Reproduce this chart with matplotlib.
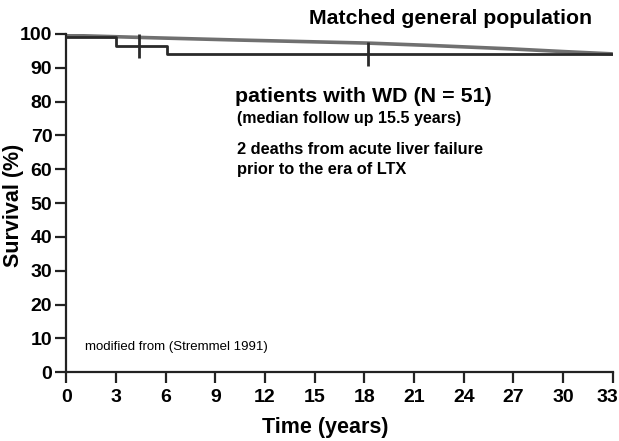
import matplotlib
matplotlib.use("Agg")
import matplotlib.pyplot as plt
from matplotlib.transforms import ScaledTranslation

plt.rcParams['font.family'] = ['Liberation Sans', 'DejaVu Sans']

# Kaplan-Meier, patients with WD
km_time = [0, 3, 3, 6.1, 6.1, 33]
km_surv = [99, 99, 96.4, 96.4, 94.0, 94.0]
censor_time = [4.4, 18.2]
censor_surv = [96.4, 94.0]

# matched general population
pop_time = [0, 5, 10.4, 18.2, 22, 26.8, 30, 33]
pop_surv = [99.6, 98.9, 98.2, 97.3, 96.6, 95.6, 94.8, 94.1]

xticks = list(range(0, 34, 3))
yticks = list(range(0, 101, 10))

fig = plt.figure(figsize=(6.19, 4.41), dpi=100)
ax = fig.add_axes([0.107, 0.156, 0.883, 0.767])

ax.plot(pop_time, pop_surv, color='#707070', lw=2.6, solid_capstyle='butt', zorder=2)
ax.plot(km_time, km_surv, color='#2a2a2a', lw=2.0, zorder=3)
ax.plot(censor_time, censor_surv, ls='none', marker='|', ms=17, mew=2.0,
        color='#2a2a2a', zorder=3)

ax.set_xlim(0, 33)
ax.set_ylim(0, 100)
ax.set_xticks(xticks)
ax.set_yticks(yticks)
ax.spines['top'].set_visible(False)
ax.spines['right'].set_visible(False)
for s in ['left', 'bottom']:
    ax.spines[s].set_linewidth(1.6)
    ax.spines[s].set_color('#222222')
ax.tick_params(direction='out', length=8, width=1.6, color='#222222',
               labelsize=14)
ax.tick_params(axis='y', pad=2)
ax.tick_params(axis='x', pad=4)
for lab in ax.get_xticklabels() + ax.get_yticklabels():
    lab.set_fontweight('bold')
# last x label sits against the right edge, nudge it in a bit
last = ax.get_xticklabels()[-1]
last.set_transform(last.get_transform() + ScaledTranslation(-5 / 100, 0, fig.dpi_scale_trans))

fig.text(325 / 619, 1 - 428 / 441, 'Time (years)', ha='center', va='center',
         fontsize=15.5, fontweight='bold')
fig.text(14 / 619, 1 - 205 / 441, 'Survival (%)', ha='center', va='center',
         rotation=90, fontsize=15.5, fontweight='bold')

fig.text(451 / 619, 1 - 18 / 441, 'Matched general population', ha='center',
         va='center', fontsize=15.3, fontweight='bold')
ax.text(10.2, 81.4, 'patients with WD (N = 51)', fontsize=15.4, fontweight='bold',
        va='center')
ax.text(10.3, 75.1, '(median follow up 15.5 years)', fontsize=11.5,
        fontweight='bold', va='center')
ax.text(10.3, 65.7, '2 deaths from acute liver failure', fontsize=11.8,
        fontweight='bold', va='center')
ax.text(10.3, 59.8, 'prior to the era of LTX', fontsize=11.8,
        fontweight='bold', va='center')
ax.text(1.15, 7.4, 'modified from (Stremmel 1991)', fontsize=9.5, va='center')

fig.savefig('out.png', dpi=100)
plt.close()
